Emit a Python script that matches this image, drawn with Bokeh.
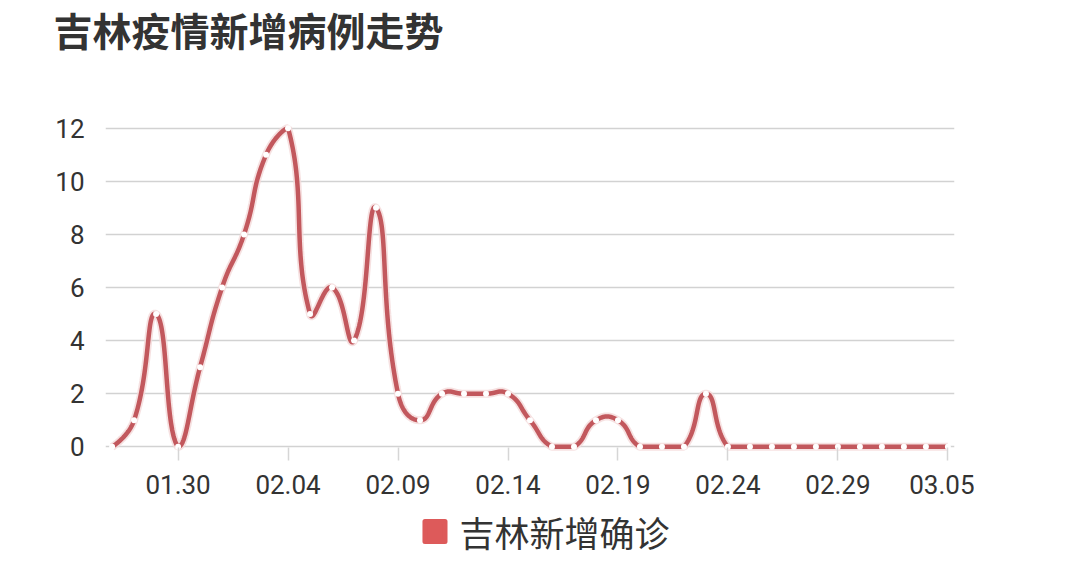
import numpy as np
from bokeh.plotting import figure
from bokeh.layouts import column
from bokeh.models import FixedTicker, Range1d, Title
from bokeh.core.properties import value
from bokeh.embed import file_html
from bokeh.resources import INLINE

# ---- data ----
dates = ["01.27", "01.28", "01.29", "01.30", "01.31", "02.01", "02.02", "02.03",
         "02.04", "02.05", "02.06", "02.07", "02.08", "02.09", "02.10", "02.11",
         "02.12", "02.13", "02.14", "02.15", "02.16", "02.17", "02.18", "02.19",
         "02.20", "02.21", "02.22", "02.23", "02.24", "02.25", "02.26", "02.27",
         "02.28", "02.29", "03.01", "03.02", "03.03", "03.04", "03.05"]
cases = [0, 1, 5, 0, 3, 6, 8, 11,
         12, 5, 6, 4, 9, 2, 1, 2,
         2, 2, 2, 1, 0, 0, 1, 1,
         0, 0, 0, 2, 0, 0, 0, 0,
         0, 0, 0, 0, 0, 0, 0]
tick_labels = ["01.30", "02.04", "02.09", "02.14", "02.19", "02.24", "02.29", "03.05"]
y_ticks = [0, 2, 4, 6, 8, 10, 12]
title_text = "吉林疫情新增病例走势"
series_name = "吉林新增确诊"

# ---- layout constants ----
FW, FH = 849, 332
BL, BR, BB = 105, 20, 55
TOTAL_W = BL + FW + BR
x0, x1 = -0.3, len(dates) - 1 + 0.3
y0, y1 = -0.25, 12.25
SX = FW / (x1 - x0)
SY = FH / (y1 - y0)

idx = list(range(len(dates)))
tick_pos = [dates.index(t) for t in tick_labels]


def smooth_curve(xd, yd, smooth=0.5, nseg=40):
    """ECharts-style smoothed polyline computed in pixel space."""
    pts = np.column_stack([np.asarray(xd, float) * SX, np.asarray(yd, float) * SY])
    mn, mx = pts.min(0), pts.max(0)
    cp0 = pts[0].copy()
    v = np.zeros(2)
    out_x, out_y = [pts[0][0]], [pts[0][1]]
    t = np.linspace(0, 1, nseg)[1:, None]
    n = len(pts)
    for i in range(1, n):
        p, prev = pts[i], pts[i - 1]
        r = 0.5
        if i + 1 < n:
            nxt = pts[i + 1]
            v = nxt - prev
            d0 = np.hypot(*(p - prev))
            d1 = np.hypot(*(p - nxt))
            r = d1 / (d0 + d1) if (d0 + d1) > 0 else 0.5
            cp1 = p - v * smooth * (1 - r)
        else:
            cp1 = p.copy()
        c0 = np.clip(cp0, mn, mx)
        c1 = np.clip(cp1, mn, mx)
        b = ((1 - t) ** 3) * prev + 3 * ((1 - t) ** 2) * t * c0 + 3 * (1 - t) * t ** 2 * c1 + t ** 3 * p
        out_x.extend(b[:, 0])
        out_y.extend(b[:, 1])
        cp0 = p + v * smooth * r
    return np.array(out_x) / SX, np.array(out_y) / SY


sx, sy = smooth_curve(idx, cases)

p = figure(frame_width=FW, frame_height=FH, x_range=Range1d(x0, x1), y_range=Range1d(y0, y1),
           output_backend="svg", toolbar_location=None,
           min_border_left=BL, min_border_right=BR, min_border_top=0, min_border_bottom=BB)
p.outline_line_color = None
p.background_fill_color = "white"
p.border_fill_color = "white"

# main title (outermost panel)
p.title.text = title_text
p.title.align = "left"
p.title.vertical_align = "top"
p.title.offset = -52
p.title.standoff = 0
p.title.text_font = "Noto Sans CJK SC"
p.title.text_font_style = "bold"
p.title.text_font_size = "39px"
p.title.text_color = "#333333"

# spacer between title and plot (panel next to the frame)
spacer = Title(text=" ", text_font="Noto Sans CJK SC", text_font_size="39px", standoff=5)
p.add_layout(spacer, "above")

p.xgrid.grid_line_color = None
p.yaxis.ticker = FixedTicker(ticks=y_ticks)
p.ygrid.grid_line_color = "#d2d2d2"
p.ygrid.grid_line_width = 1.5

p.xaxis.ticker = FixedTicker(ticks=tick_pos)
p.xaxis.major_label_overrides = {i: dates[i] for i in tick_pos}
p.xaxis.axis_line_color = None
p.xaxis.major_tick_line_color = "#d6d6d6"
p.xaxis.major_tick_line_width = 1.5
p.xaxis.major_tick_in = 6
p.xaxis.major_tick_out = 7
p.xaxis.minor_tick_line_color = None
p.xaxis.major_label_standoff = 14
p.xaxis.major_label_text_font = "Roboto"
p.xaxis.major_label_text_font_size = "26px"
p.xaxis.major_label_text_color = "#333333"

p.yaxis.axis_line_color = None
p.yaxis.major_tick_line_color = None
p.yaxis.minor_tick_line_color = None
p.yaxis.major_label_standoff = 15
p.yaxis.major_label_text_font = "Roboto"
p.yaxis.major_label_text_font_size = "26px"
p.yaxis.major_label_text_color = "#333333"

# series
p.line(sx, sy, line_width=8, line_color="#f4d9d9", line_alpha=0.8)
p.line(sx, sy, line_width=4.5, line_color="#c2585d", line_join="round")
p.scatter(idx, cases, size=6, fill_color="white", line_color=None)

# ---- legend strip (separate small figure below the chart, pixel-scaled) ----
TOP_H = 122.4 + FH + BB          # approximate height of the chart canvas
LH = 579 - int(round(TOP_H)) - 2
LEG_CY = 532 - round(TOP_H)      # legend centre measured from strip top
LEG_DX = -50                     # strip is centred under the wider chart canvas
p2 = figure(width=TOTAL_W, height=LH, x_range=Range1d(0, TOTAL_W), y_range=Range1d(LH, 0),
            x_axis_location=None, y_axis_location=None,
            output_backend="svg", toolbar_location=None, min_border=0)
p2.outline_line_color = None
p2.background_fill_color = "white"
p2.border_fill_color = "white"
p2.xgrid.visible = False
p2.ygrid.visible = False
p2.rect(x=[428 + LEG_DX], y=[LEG_CY], width=23, height=20, fill_color="#dd5a5a",
        line_color="#dd5a5a", line_width=5, line_join="round")
p2.text(x=[456 + LEG_DX], y=[LEG_CY], text=[series_name], text_font=value("Noto Sans CJK SC"),
        text_font_size="35px", text_color="#333333", text_align="left",
        text_baseline="middle")

layout = column(p, p2, spacing=0)
open("out.html", "w").write(file_html(layout, INLINE))
